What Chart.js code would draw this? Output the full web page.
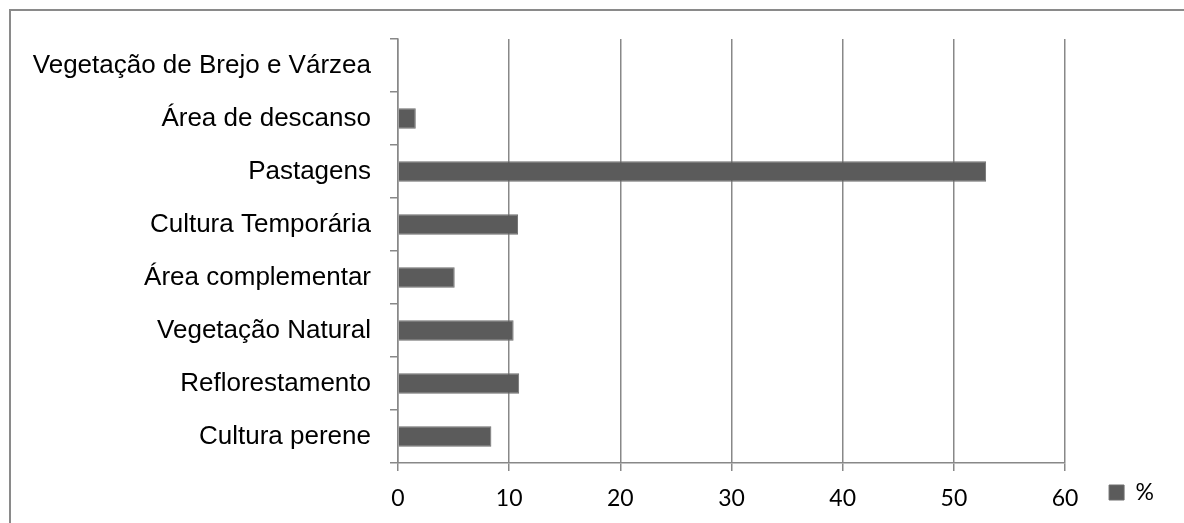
<!DOCTYPE html>
<html>
<head>
<meta charset="utf-8">
<script src="https://cdn.jsdelivr.net/npm/chart.js@4"></script>
<style>
  html, body { margin: 0; padding: 0; background: #fff; overflow: hidden; }
  #frame {
    position: absolute; left: 9px; top: 9px; width: 1300px; height: 700px;
    border-left: 2px solid #8a8a8a; border-top: 2px solid #8a8a8a;
  }
  #chart { position: absolute; left: 0; top: 0; }
</style>
</head>
<body>
<div id="frame"></div>
<canvas id="chart" width="1184" height="523"></canvas>
<script>
// categories, top to bottom as in the picture
var categories = [
  'Vegetação de Brejo e Várzea',
  'Área de descanso',
  'Pastagens',
  'Cultura Temporária',
  'Área complementar',
  'Vegetação Natural',
  'Reflorestamento',
  'Cultura perene'
];
var percent = [0, 1.6, 52.9, 10.8, 5.1, 10.4, 10.9, 8.4];
var xTicks = [0, 10, 20, 30, 40, 50, 60];

var gridGray = '#888888';

var ctx = document.getElementById('chart').getContext('2d');

var myChart = new Chart(ctx, {
  type: 'bar',
  data: {
    labels: categories,
    datasets: [{
      label: '%',
      data: percent,
      backgroundColor: '#5b5b5b',
      borderColor: '#6e6e6e',
      borderWidth: 1,
      categoryPercentage: 1,
      barPercentage: 0.385
    }]
  },
  options: {
    indexAxis: 'y',
    responsive: false,
    animation: false,
    devicePixelRatio: 1,
    layout: { padding: { top: 39, right: 20, bottom: 9, left: 0 } },
    plugins: {
      tooltip: { enabled: false },
      legend: {
        position: 'right',
        align: 'end',
        labels: {
          boxWidth: 15,
          boxHeight: 15,
          padding: 10,
          color: '#000',
          font: { family: 'Lato', size: 23 }
        }
      }
    },
    scales: {
      x: {
        min: 0,
        max: 60,
        afterBuildTicks: function (s) {
          s.ticks = xTicks.map(function (v) { return { value: v }; });
        },
        afterFit: function (s) { s.height = 51; },
        grid: {
          color: gridGray,
          lineWidth: 1.5,
          tickLength: 8
        },
        border: { display: true, color: gridGray, width: 1.5 },
        ticks: {
          color: '#000',
          padding: 14,
          font: { family: 'Lato', size: 23 }
        }
      },
      y: {
        afterFit: function (s) { s.width = 398; },
        grid: {
          drawOnChartArea: false,
          drawTicks: true,
          tickLength: 8,
          color: gridGray,
          lineWidth: 1.5
        },
        border: { display: true, color: gridGray, width: 1.5 },
        ticks: {
          color: '#000',
          padding: 19,
          font: { family: 'Liberation Sans', size: 26 }
        }
      },
      // empty spacer between the plot and the legend
      spacer: {
        type: 'linear',
        axis: 'y',
        position: 'right',
        display: true,
        grid: { display: false },
        border: { display: false },
        ticks: { display: false },
        afterFit: function (s) { s.width = 34; }
      }
    }
  }
});
</script>
</body>
</html>
